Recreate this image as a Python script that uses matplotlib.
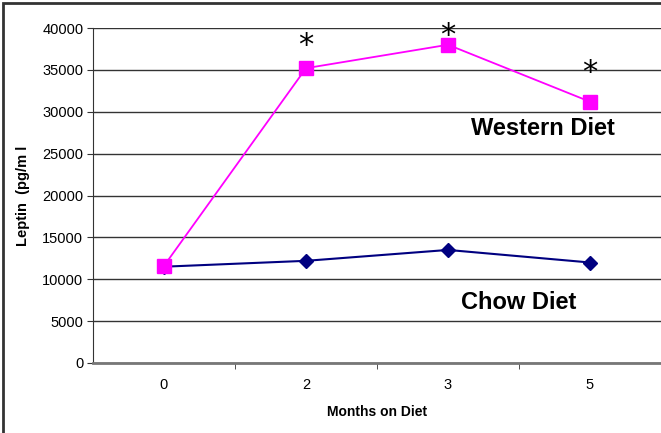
import matplotlib
matplotlib.use("Agg")
import matplotlib.pyplot as plt
from matplotlib.patches import Rectangle

plt.rcParams['font.family'] = ['Liberation Sans', 'DejaVu Sans']

months = ["0", "2", "3", "5"]
western = [11600, 35200, 38000, 31200]
chow = [11500, 12200, 13500, 12000]
star_y = [37900, 39100, 34700]   # asterisk heights above months 2, 3, 5
yticks = list(range(0, 40001, 5000))

fig = plt.figure(figsize=(6.61, 4.33), dpi=100)
ax = fig.add_axes([93 / 661, 1 - 363 / 433, 1 - 93 / 661, (363 - 28) / 433])

x = list(range(len(months)))
ax.plot(x, chow, color="#000080", lw=1.5, marker="D", ms=7.5, zorder=3)
ax.plot(x, western, color="#FF00FF", lw=1.3, marker="s", ms=9.5, zorder=4)

for xi, sy in zip(x[1:], star_y):
    ax.text(xi, sy, "*", ha="center", va="center", fontsize=22,
            family="DejaVu Sans", color="black")

ax.text(2.67, 28000, "Western Diet", ha="center", va="center",
        fontsize=17, fontweight="bold")
ax.text(2.5, 7200, "Chow Diet", ha="center", va="center",
        fontsize=17, fontweight="bold")

ax.set_xlim(-0.5, 3.5)
ax.set_ylim(0, 40000)
ax.set_yticks(yticks)
ax.set_yticklabels([str(v) for v in yticks], fontsize=10.5)
ax.set_xticks(x)
ax.set_xticklabels(months, fontsize=10.5)
ax.set_xticks([0.5, 1.5, 2.5], minor=True)
ax.tick_params(axis="x", which="major", length=0, pad=11)
ax.tick_params(axis="x", which="minor", length=4, color="#333333")
ax.tick_params(axis="y", length=4, color="#333333", pad=3)

ax.yaxis.grid(True, color="#333333", lw=1)
ax.set_axisbelow(True)
for s in ("top", "right"):
    ax.spines[s].set_visible(False)
ax.spines["left"].set_color("#333333")
ax.spines["bottom"].set_color("#777777")
ax.spines["bottom"].set_linewidth(2)

ax.set_xlabel("Months on Diet", fontsize=10, fontweight="bold", labelpad=9)
ax.set_ylabel("Leptin  (pg/m l", fontsize=10.5, fontweight="bold", labelpad=9)

fig.patches.append(Rectangle((3 / 661, -0.1), 1.2, 1 - 3 / 433 + 0.1,
                             transform=fig.transFigure, fill=False,
                             edgecolor="#333333", lw=2))

fig.savefig("out.png", dpi=100)
